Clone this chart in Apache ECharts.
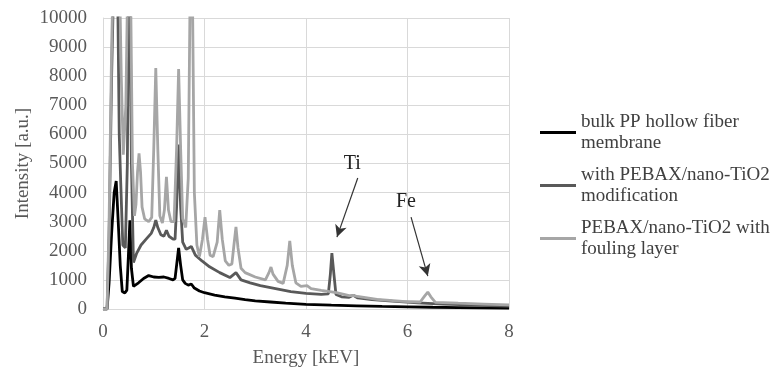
<!DOCTYPE html>
<html>
<head>
<meta charset="utf-8">
<script src="https://cdn.jsdelivr.net/npm/echarts@6/dist/echarts.min.js"></script>
<style>
  html, body { margin: 0; padding: 0; background: #fff; }
  #chart { width: 778px; height: 371px; }
</style>
</head>
<body>
<div id="chart"></div>
<script>
// energy [keV] and intensity [a.u.]
var bulkE = [0, 0.08, 0.12, 0.17, 0.22, 0.26, 0.30, 0.34, 0.38, 0.43, 0.47, 0.50, 0.53, 0.56, 0.60, 0.70, 0.80, 0.90, 1.00, 1.10, 1.20, 1.30, 1.38, 1.42, 1.45, 1.49, 1.53, 1.57, 1.62, 1.68, 1.74, 1.80, 1.90, 2.00, 2.20, 2.40, 2.60, 2.80, 3.00, 3.30, 3.60, 4.00, 4.50, 5.00, 5.50, 6.00, 6.50, 7.00, 7.50, 8.00];
var bulkI = [0, 0, 900, 2600, 4000, 4400, 3000, 1500, 600, 550, 650, 1800, 3050, 1400, 780, 900, 1050, 1150, 1100, 1090, 1100, 1050, 1000, 1050, 1500, 2100, 1500, 1000, 880, 820, 860, 720, 620, 560, 480, 420, 370, 320, 280, 240, 200, 160, 130, 110, 90, 75, 60, 50, 40, 30];

var modE = [0, 0.08, 0.12, 0.17, 0.22, 0.27, 0.32, 0.35, 0.39, 0.44, 0.48, 0.52, 0.56, 0.60, 0.66, 0.75, 0.85, 0.95, 1.00, 1.04, 1.08, 1.14, 1.20, 1.25, 1.30, 1.38, 1.42, 1.45, 1.49, 1.53, 1.57, 1.64, 1.74, 1.82, 1.95, 2.10, 2.30, 2.50, 2.62, 2.72, 2.90, 3.10, 3.40, 3.70, 4.00, 4.30, 4.44, 4.48, 4.51, 4.55, 4.59, 4.70, 4.85, 4.93, 5.02, 5.30, 5.70, 6.20, 6.70, 7.20, 7.60, 8.00];
var modI = [0, 0, 2500, 8000, 12000, 14000, 6000, 4300, 2200, 2100, 5000, 14000, 5000, 1600, 1900, 2200, 2400, 2600, 2800, 3050, 2800, 2550, 2500, 2700, 2500, 2400, 2400, 3500, 5650, 3500, 2300, 2050, 2150, 1850, 1650, 1450, 1250, 1080, 1250, 1000, 900, 800, 700, 600, 540, 500, 520, 1200, 1920, 1200, 500, 420, 400, 470, 380, 320, 270, 210, 170, 140, 120, 100];

var foulE = [0, 0.08, 0.12, 0.17, 0.22, 0.27, 0.32, 0.36, 0.40, 0.45, 0.52, 0.58, 0.62, 0.65, 0.68, 0.71, 0.74, 0.77, 0.82, 0.90, 0.96, 1.00, 1.04, 1.08, 1.12, 1.17, 1.21, 1.25, 1.29, 1.34, 1.40, 1.45, 1.49, 1.53, 1.57, 1.63, 1.68, 1.74, 1.80, 1.85, 1.90, 1.96, 2.01, 2.06, 2.11, 2.17, 2.25, 2.30, 2.35, 2.41, 2.48, 2.54, 2.58, 2.62, 2.66, 2.72, 2.80, 3.00, 3.20, 3.27, 3.31, 3.35, 3.45, 3.55, 3.63, 3.68, 3.73, 3.80, 3.90, 4.02, 4.10, 4.30, 4.60, 4.85, 4.93, 5.01, 5.40, 5.90, 6.25, 6.34, 6.40, 6.46, 6.55, 7.00, 7.50, 8.00];
var foulI = [0, 0, 3000, 9000, 13000, 15000, 12000, 8000, 5300, 7000, 15000, 5000, 3200, 3600, 4700, 5350, 4700, 3500, 3100, 3000, 3150, 5500, 8280, 5500, 3200, 2950, 3400, 4540, 3400, 3000, 3000, 5500, 8250, 5500, 3100, 2800, 4500, 15000, 4000, 2200, 1800, 2400, 3160, 2400, 1850, 1800, 2300, 3400, 2400, 1650, 1500, 1550, 2200, 2820, 2100, 1400, 1250, 1100, 1000, 1250, 1440, 1200, 950, 880, 1500, 2340, 1500, 900, 780, 800, 700, 640, 560, 460, 470, 430, 330, 260, 240, 450, 580, 420, 230, 200, 170, 140];

var seriesNames = ['bulk PP hollow fiber\nmembrane', 'with PEBAX/nano-TiO2\nmodification', 'PEBAX/nano-TiO2 with\nfouling layer'];

// annotation arrows (from, to) and labels, in data units
var tiArrow = [[5.02, 4500], [4.61, 2470]];
var feArrow = [[6.07, 3160], [6.40, 1130]];
var tiLabel = [4.91, 5000];
var feLabel = [5.97, 3700];

function pairs(xs, ys) {
    var out = [];
    for (var i = 0; i < xs.length; i++) {
        out.push([xs[i], ys[i]]);
    }
    return out;
}

var font = 'Liberation Serif';
var chart = echarts.init(document.getElementById('chart'));

function lineSeries(name, xs, ys, color) {
    return {
        name: name,
        type: 'line',
        data: pairs(xs, ys),
        showSymbol: false,
        symbol: 'none',
        color: color,
        lineStyle: { color: color, width: 2.8 },
        clip: true
    };
}

var foul = lineSeries(seriesNames[2], foulE, foulI, '#a6a6a6');
foul.markLine = {
    silent: true,
    symbol: ['none', 'arrow'],
    symbolSize: [9, 12],
    label: { show: false },
    lineStyle: { color: '#333', width: 1.2, type: 'solid' },
    data: [
        [{ coord: tiArrow[0] }, { coord: tiArrow[1] }],
        [{ coord: feArrow[0] }, { coord: feArrow[1] }]
    ]
};
foul.markPoint = {
    silent: true,
    symbolSize: 0,
    label: {
        show: true,
        position: 'inside',
        color: '#222',
        fontFamily: font,
        fontSize: 20,
        formatter: function (p) { return p.name; }
    },
    data: [
        { name: 'Ti', coord: tiLabel },
        { name: 'Fe', coord: feLabel }
    ]
};

var option = {
    animation: false,
    backgroundColor: '#fff',
    textStyle: { fontFamily: font },
    grid: { left: 103, right: 269, top: 18, bottom: 62, outerBoundsMode: 'none' },
    legend: {
        orient: 'vertical',
        left: 540,
        top: 101,
        padding: 0,
        itemWidth: 36,
        itemHeight: 3,
        itemGap: -10,
        icon: 'rect',
        textStyle: {
            fontFamily: font,
            fontSize: 19,
            color: '#404040',
            lineHeight: 21,
            padding: [21, 0, 0, 0]
        },
        data: seriesNames
    },
    xAxis: {
        type: 'value',
        min: 0,
        max: 8,
        interval: 2,
        name: 'Energy [kEV]',
        nameLocation: 'middle',
        nameGap: 40,
        nameMoveOverlap: false,
        nameTextStyle: { fontFamily: font, fontSize: 19, color: '#595959' },
        axisLine: { show: true, lineStyle: { color: '#d9d9d9' } },
        axisTick: { show: false },
        axisLabel: { fontFamily: font, fontSize: 19, color: '#595959', margin: 14 },
        splitLine: { show: true, lineStyle: { color: '#d9d9d9' } }
    },
    yAxis: {
        type: 'value',
        min: 0,
        max: 10000,
        interval: 1000,
        name: 'Intensity [a.u.]',
        nameLocation: 'middle',
        nameGap: 70,
        nameMoveOverlap: false,
        nameTextStyle: { fontFamily: font, fontSize: 19, color: '#595959' },
        axisLine: { show: true, lineStyle: { color: '#d9d9d9' } },
        axisTick: { show: false },
        axisLabel: {
            fontFamily: font, fontSize: 19, color: '#595959', margin: 16,
            formatter: function (v) { return String(v); }
        },
        splitLine: { show: true, lineStyle: { color: '#d9d9d9' } }
    },
    series: [
        lineSeries(seriesNames[0], bulkE, bulkI, '#000000'),
        lineSeries(seriesNames[1], modE, modI, '#595959'),
        foul
    ]
};
chart.setOption(option);
</script>
</body>
</html>
